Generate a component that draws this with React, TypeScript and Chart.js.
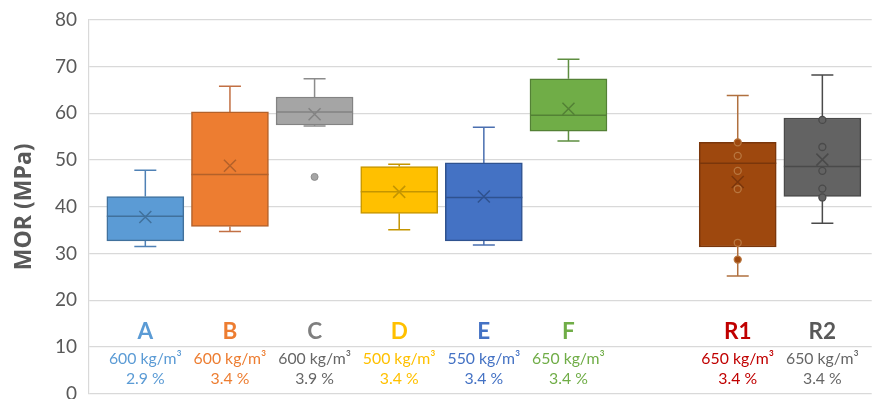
import React, { useEffect, useRef } from 'react';
import { Chart, registerables } from 'chart.js';

Chart.register(...registerables);

// ---- data ----
const categories = ['A', 'B', 'C', 'D', 'E', 'F', 'R1', 'R2'];
const positions = [1, 2, 3, 4, 5, 6, 8, 9];
const whiskerLow = [31.5, 34.7, 57.3, 35.1, 31.8, 54.1, 25.2, 36.5];
const q1 = [32.7, 35.8, 57.5, 38.6, 32.7, 56.2, 31.4, 42.2];
const median = [38.0, 46.9, 60.3, 43.2, 42.0, 59.6, 49.3, 48.6];
const q3 = [42.2, 60.3, 63.5, 48.6, 49.4, 67.4, 53.8, 59.0];
const whiskerHigh = [47.8, 65.8, 67.4, 49.1, 57.0, 71.6, 63.8, 68.2];
const mean = [37.8, 48.8, 59.8, 43.2, 42.2, 61.0, 45.3, 50.1];
const outliersC = [46.4];
const pointsR1 = [53.8, 50.9, 47.7, 43.8, 32.3, 28.7];
const pointsR2 = [58.6, 52.8, 47.7, 43.9, 42.0];
const densities = ['600 kg/m³', '600 kg/m³', '600 kg/m³', '500 kg/m³', '550 kg/m³', '650 kg/m³', '650 kg/m³', '650 kg/m³'];
const moisture = ['2.9 %', '3.4 %', '3.9 %', '3.4 %', '3.4 %', '3.4 %', '3.4 %', '3.4 %'];
const yTicks = [0, 10, 20, 30, 40, 50, 60, 70, 80];

// ---- styles ----
const fills = ['#5B9BD5', '#ED7D31', '#A5A5A5', '#FFC000', '#4472C4', '#70AD47', '#9E480E', '#636363'];
const borders = ['#41719C', '#B3612A', '#838383', '#C49500', '#2F528F', '#538135', '#7A360B', '#4A4A4A'];
const whiskerColors = ['#4F81B5', '#C27044', '#8C8C8C', '#C49500', '#4A6FB0', '#5E8E40', '#B0703F', '#4A4A4A'];
const letterColors = ['#5B9BD5', '#ED7D31', '#7F7F7F', '#FFC000', '#4472C4', '#70AD47', '#C00000', '#595959'];
const textColors = ['#5B9BD5', '#ED7D31', '#666666', '#FFC000', '#4472C4', '#70AD47', '#C00000', '#666666'];
const FONT = 'Lato, "Open Sans", sans-serif';

export default function App() {
  const ref = useRef<HTMLCanvasElement>(null);

  useEffect(() => {
    const canvas = ref.current;
    if (!canvas) return;

    const boxPlugin = {
      id: 'boxExtras',
      beforeDatasetsDraw(chart: any) {
        const ctx = chart.ctx;
        const xs = chart.scales.x;
        const ys = chart.scales.y;
        // labels
        ctx.save();
        ctx.textAlign = 'center';
        ctx.textBaseline = 'middle';
        categories.forEach((c, i) => {
          const px = xs.getPixelForValue(positions[i]);
          ctx.fillStyle = letterColors[i];
          ctx.font = `bold 22.5px ${FONT}`;
          ctx.fillText(c, px, ys.getPixelForValue(13.3));
          ctx.fillStyle = textColors[i];
          ctx.font = `15.8px ${FONT}`;
          ctx.fillText(densities[i], px, ys.getPixelForValue(7.4));
          ctx.fillText(moisture[i], px, ys.getPixelForValue(3.1));
        });
        // whiskers
        ctx.lineWidth = 1.5;
        positions.forEach((p, i) => {
          const px = xs.getPixelForValue(p);
          ctx.strokeStyle = whiskerColors[i];
          const segs = [
            [q3[i], whiskerHigh[i]],
            [q1[i], whiskerLow[i]],
          ];
          segs.forEach(([a, b]) => {
            const ya = ys.getPixelForValue(a);
            const yb = ys.getPixelForValue(b);
            ctx.beginPath();
            ctx.moveTo(px, ya);
            ctx.lineTo(px, yb);
            ctx.moveTo(px - 11, yb);
            ctx.lineTo(px + 11, yb);
            ctx.stroke();
          });
        });
        ctx.restore();
      },
      afterDatasetDraw(chart: any, args: any) {
        if (args.index !== 0) return;
        const ctx = chart.ctx;
        const xs = chart.scales.x;
        const ys = chart.scales.y;
        ctx.save();
        ctx.lineWidth = 1.5;
        positions.forEach((p, i) => {
          const px = xs.getPixelForValue(p);
          ctx.strokeStyle = borders[i];
          const ym = ys.getPixelForValue(median[i]);
          ctx.beginPath();
          ctx.moveTo(px - 38.5, ym);
          ctx.lineTo(px + 38.5, ym);
          ctx.stroke();
          const yx = ys.getPixelForValue(mean[i]);
          const s = 6;
          ctx.beginPath();
          ctx.moveTo(px - s, yx - s);
          ctx.lineTo(px + s, yx + s);
          ctx.moveTo(px + s, yx - s);
          ctx.lineTo(px - s, yx + s);
          ctx.stroke();
        });
        ctx.restore();
      },
    };

    const chart = new Chart(canvas, {
      type: 'bar',
      data: {
        datasets: [
          {
            type: 'bar',
            data: positions.map((p, i) => ({ x: p, y: [q1[i], q3[i]] })) as any,
            backgroundColor: fills,
            borderColor: borders,
            borderWidth: 1.5,
            borderSkipped: false,
            barThickness: 77,
            order: 2,
          } as any,
          {
            type: 'scatter',
            data: outliersC.map((v) => ({ x: positions[2], y: v })),
            backgroundColor: fills[2],
            borderColor: '#8C8C8C',
            borderWidth: 1,
            pointRadius: 3.5,
            order: 1,
          } as any,
          {
            type: 'scatter',
            data: pointsR1.map((v) => ({ x: positions[6], y: v })),
            backgroundColor: fills[6],
            borderColor: '#B8763F',
            borderWidth: 1.3,
            pointRadius: 3.5,
            order: 1,
          } as any,
          {
            type: 'scatter',
            data: pointsR2.map((v) => ({ x: positions[7], y: v })),
            backgroundColor: fills[7],
            borderColor: '#4A4A4A',
            borderWidth: 1.3,
            pointRadius: 3.5,
            order: 1,
          } as any,
        ],
      },
      options: {
        responsive: false,
        animation: false,
        events: [],
        layout: { padding: { top: 19.9, bottom: 4.7, left: 0, right: 0 } },
        plugins: { legend: { display: false }, tooltip: { enabled: false } },
        scales: {
          x: {
            type: 'linear',
            display: false,
            min: 0.3345,
            max: 9.583,
            offset: false,
          },
          y: {
            type: 'linear',
            min: yTicks[0],
            max: yTicks[yTicks.length - 1],
            afterBuildTicks: (s: any) => {
              s.ticks = yTicks.map((v) => ({ value: v }));
            },
            afterFit: (s: any) => {
              s.width = 89;
              s.paddingTop = 0;
              s.paddingBottom = 0;
            },
            grid: { color: '#D9D9D9', lineWidth: 1.2, drawTicks: false },
            border: { display: true, color: '#D9D9D9', width: 1.2 },
            ticks: {
              color: '#595959',
              font: { family: FONT, size: 19 },
              padding: 12,
            },
            title: {
              display: true,
              text: 'MOR (MPa)',
              color: '#595959',
              font: { family: '"Open Sans", Lato, sans-serif', size: 23, weight: 'bold' },
              padding: { top: 11, bottom: 0 },
            },
          },
        },
      },
      plugins: [boxPlugin],
    } as any);

    return () => chart.destroy();
  }, []);

  return (
    <div style={{ position: 'fixed', left: 0, top: 0, width: 877, height: 399, background: '#fff' }}>
      <canvas ref={ref} width={877} height={399} style={{ display: 'block' }} />
    </div>
  );
}
